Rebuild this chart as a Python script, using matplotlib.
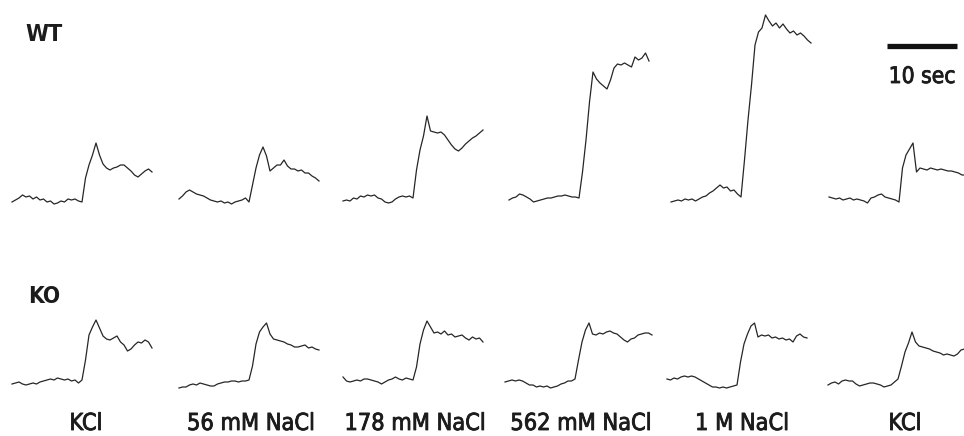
import numpy as np
import matplotlib
matplotlib.use("Agg")
import matplotlib.pyplot as plt
from matplotlib import font_manager
import matplotlib.patheffects as pe

# sampling of every trace (seconds between points)
SAMPLE_DT = 0.5

stimuli = ["KCl", "56 mM NaCl", "178 mM NaCl", "562 mM NaCl", "1 M NaCl", "KCl"]
genotypes = ["WT", "KO"]

# responses in arbitrary units, one list per stimulus
wtTraces = [
  [-2, 0, 2, 5, 3, 4, 1, 3, 0, 1, -2, -1, -4, -3, -1, -2, 1, 0, 1, -1, -2,
   22, 35, 45, 57, 45, 36, 32, 30, 32, 33, 35, 35, 32, 29, 25, 23, 26, 29, 31, 28],
  [1, 4, 8, 10, 8, 6, 5, 4, 2, 0, -1, -2, -1, -3, -2, -4, -2, -1, 0, 2, -2,
   15, 32, 45, 53, 44, 29, 32, 35, 35, 40, 34, 31, 31, 29, 30, 27, 27, 24, 22, 19],
  [-1, 0, -1, 2, 1, 4, 3, 5, 4, 5, 2, 1, -2, -3, -2, 1, 3, 4, 3, 4, 2,
   30, 50, 64, 84, 69, 68, 67, 68, 65, 60, 55, 51, 49, 52, 56, 59, 62, 64, 67, 70],
  [0, 2, 3, 6, 5, 3, 1, -2, -1, 0, 1, 2, 2, 3, 4, 4, 5, 4, 3, 3, 2,
   28, 60, 98, 128, 121, 117, 114, 111, 120, 132, 136, 135, 137, 135, 133, 143, 140, 142, 147, 139],
  [-2, -1, 0, -1, 1, 0, 1, -1, 1, 3, 4, 7, 9, 12, 15, 12, 13, 9, 10, 6, 3,
   40, 80, 115, 155, 168, 172, 185, 179, 174, 177, 172, 176, 171, 167, 169, 165, 167, 164, 160, 157],
  [3, 2, 1, 2, 0, 1, 2, 0, 1, 0, -1, -3, 2, 3, 5, 6, 3, 2, 1, 0, -2,
   32, 45, 51, 57, 28, 32, 31, 30, 32, 31, 30, 31, 30, 29, 29, 28, 27, 25, 25, 24],
]

koTraces = [
  [-2, -1, 0, -2, -3, -2, -1, -2, 0, 1, 2, 3, 2, 4, 3, 2, 3, 1, 2, -1, 2,
   22, 47, 55, 62, 54, 46, 43, 42, 44, 46, 40, 37, 31, 33, 37, 40, 39, 42, 40, 34],
  [-6, -5, -5, -3, -2, -3, -1, -2, -3, -4, -4, -2, -1, 0, 0, 1, 1, 0, 1, 1, 2,
   16, 38, 50, 55, 59, 48, 43, 42, 41, 40, 38, 37, 35, 35, 36, 37, 34, 35, 33, 32],
  [5, 1, 0, 1, 2, 1, 3, 3, 2, 1, 0, -2, 0, 2, 3, 5, 3, 2, 4, 3, 2,
   15, 38, 52, 61, 55, 49, 50, 48, 51, 47, 48, 45, 46, 47, 44, 42, 45, 43, 44, 40],
  [0, 1, 2, 1, 2, 1, -1, -3, -3, -5, -4, -5, -4, -6, -5, -4, -2, -1, 1, 1, 3,
   22, 40, 52, 59, 48, 47, 49, 48, 50, 51, 49, 48, 45, 42, 40, 43, 44, 47, 48, 49, 49, 47],
  [3, 2, 4, 3, 5, 6, 5, 6, 5, 3, 1, -1, -3, -5, -5, -6, -5, -6, -5, -4, -3,
   20, 38, 48, 56, 59, 45, 47, 46, 47, 44, 45, 43, 44, 42, 43, 40, 46, 48, 45, 44],
  [-3, -1, 0, -2, 1, 2, 1, 1, -2, -4, -3, -2, -1, -1, -2, -3, -5, -4, -3, 0, 3,
   16, 30, 39, 50, 40, 36, 35, 34, 33, 31, 30, 29, 27, 28, 27, 26, 28, 32, 33],
]

SCALE_BAR_SEC = 10

# ---- layout (pixels of the 964x436 picture) ----
W, H = 964, 436
PX_PER_SEC = 7.0
PX_PER_UNIT = 1.0
PANEL_W = 152
rowLayout = {
  "WT": dict(starts=[12, 179, 343, 509, 671, 829], base=200, above=200, below=16, label=(25, 41)),
  "KO": dict(starts=[12, 179, 343, 505, 667, 828], base=382, above=110, below=16, label=(28, 303)),
}
labelCenters = [86, 251, 415, 581, 742, 905]
LABEL_BASE = 430
TRACE_COLOR = "#262626"
TEXT_COLOR = "#1c1c1c"
# the reference lettering is a bit heavier than a regular face
heavier = [pe.withStroke(linewidth=0.6, foreground=TEXT_COLOR)]


def weightOf(f):
  return f.weight if isinstance(f.weight, int) else (700 if f.weight == "bold" else 400)


def narrowFaces():
  out = []
  for f in font_manager.fontManager.ttflist:
    isNarrow = ("Narrow" in f.name or "Condensed" in f.name
                or f.stretch in ("condensed", "semi-condensed"))
    if isNarrow and "Mono" not in f.name and f.style == "normal":
      out.append(f)
  return out


def pickFace(wanted, family=None):
  """narrow / condensed face closest to the wanted weight (optionally one family)"""
  faces = [f for f in narrowFaces() if family is None or f.name == family]
  if faces:
    best = sorted(faces, key=lambda f: (abs(weightOf(f) - wanted), f.fname))[0]
    return best.name, font_manager.FontProperties(fname=best.fname)
  return None, font_manager.FontProperties(family=["Lato", "DejaVu Sans"],
                                           weight="bold" if wanted >= 600 else "normal")


baseFamily, plainFace = pickFace(400)
_, boldFace = pickFace(700, baseFamily)

fig = plt.figure(figsize=(W / 100, H / 100), dpi=100)
fig.patch.set_facecolor("white")


def px2fig(x, y):
  return x / W, 1 - y / H


def fitWidth(txt, target):
  # scale the font so the text spans the same width as in the reference
  fig.canvas.draw()
  w = txt.get_window_extent().width
  txt.set_fontsize(txt.get_fontsize() * target / w)


def addPanel(x0, base, above, below):
  left, bottom = px2fig(x0, base + below)
  ax = fig.add_axes([left, bottom, PANEL_W / W, (above + below) / H])
  ax.set_xlim(0, PANEL_W / PX_PER_SEC)
  ax.set_ylim(-below / PX_PER_UNIT, above / PX_PER_UNIT)
  ax.axis("off")
  return ax


panels = {}
for name, traces in zip(genotypes, [wtTraces, koTraces]):
  lay = rowLayout[name]
  panels[name] = []
  for x0, values in zip(lay["starts"], traces):
    ax = addPanel(x0, lay["base"], lay["above"], lay["below"])
    t = SAMPLE_DT * np.arange(len(values))
    ax.plot(t, values, color=TRACE_COLOR, lw=0.9, clip_on=False)
    panels[name].append(ax)
  lx, ly = lay["label"]
  fx, fy = px2fig(lx, ly)
  g = fig.text(fx, fy, name, ha="left", va="baseline", fontproperties=boldFace.copy(),
               fontsize=20, color=TEXT_COLOR)
  fitWidth(g, 37 if name == "WT" else 32)

# stimulus names under the KO row
labelTexts = []
for cx, stim in zip(labelCenters, stimuli):
  fx, fy = px2fig(cx, LABEL_BASE)
  labelTexts.append(fig.text(fx, fy, stim, ha="center", va="baseline", path_effects=heavier,
                             fontproperties=plainFace.copy(), fontsize=20, color=TEXT_COLOR))
fitWidth(labelTexts[3], 141)
for lt in labelTexts:
  lt.set_fontsize(labelTexts[3].get_fontsize())

# 10 s scale bar in the last WT panel
barAx = panels["WT"][-1]
barStart = (887 - 829) / PX_PER_SEC
barLevel = 200 - 46
barAx.plot([barStart, barStart + SCALE_BAR_SEC], [barLevel, barLevel], color="#111111", lw=3.8,
           solid_capstyle="butt", clip_on=False)
secText = barAx.text(barStart + SCALE_BAR_SEC / 2, 200 - 83, f"{SCALE_BAR_SEC} sec", ha="center",
                     va="baseline", fontproperties=plainFace.copy(), fontsize=19, color=TEXT_COLOR,
                     path_effects=heavier)
fitWidth(secText, 67)

fig.savefig("out.png", dpi=100, facecolor="white")
